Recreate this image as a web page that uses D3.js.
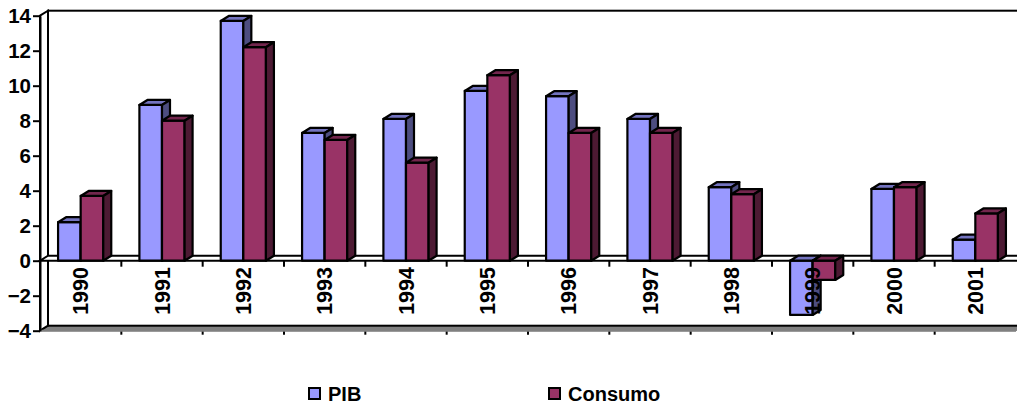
<!DOCTYPE html>
<html>
<head>
<meta charset="utf-8">
<script src="https://cdn.jsdelivr.net/npm/d3@7/dist/d3.min.js"></script>
<style>
  html, body { margin: 0; padding: 0; background: #ffffff; }
  svg { display: block; font-family: "Liberation Sans", Arial, sans-serif; font-weight: bold; }
</style>
</head>
<body>
<svg id="chart" width="1017" height="405"></svg>
<script>
// Annual growth rates (%), PIB vs Consumo
const years = ['1990', '1991', '1992', '1993', '1994', '1995', '1996', '1997', '1998', '1999', '2000', '2001'];
const pib = [2.2, 8.9, 13.7, 7.3, 8.1, 9.7, 9.4, 8.1, 4.2, -3.1, 4.1, 1.2];
const consumo = [3.7, 8.0, 12.2, 6.9, 5.6, 10.6, 7.3, 7.3, 3.8, -1.1, 4.2, 2.7];
const seriesNames = ['PIB', 'Consumo'];
const yTicks = [-4, -2, 0, 2, 4, 6, 8, 10, 12, 14];

const palette = {
  PIB: { front: '#9999ff', top: '#7373bf', side: '#4d4d80' },
  Consumo: { front: '#993366', top: '#73264d', side: '#4d1a33' }
};

const svg = d3.select('#chart');

// pseudo-3D depth offset
const DX = 8, DY = -5;

const x = d3.scaleBand().domain(years).range([40, 1016]).padding(0);
const xs = d3.scaleBand().domain(seriesNames).range([0, x.bandwidth()])
  .paddingInner(0).paddingOuter(0.8);
const y = d3.scaleLinear().domain([-4, 14]).range([330.7, 15.7]);

const x0 = x.range()[0], x1 = x.range()[1];
const yTop = y(14), yBot = y(-4), yZero = y(0);

const poly = pts => pts.map(p => p.join(',')).join(' ');

// floor
svg.append('polygon')
  .attr('points', poly([[x0, yBot], [x1, yBot], [x1 + DX, yBot + DY], [x0 + DX, yBot + DY]]))
  .attr('fill', '#808080').attr('stroke', '#808080').attr('stroke-width', 1);

// back wall
svg.append('rect')
  .attr('x', x0 + DX).attr('y', yTop + DY)
  .attr('width', x1 - x0 + 20).attr('height', yBot - yTop)
  .attr('fill', '#ffffff').attr('stroke', '#000').attr('stroke-width', 2);

// side wall
svg.append('polygon')
  .attr('points', poly([[x0, yTop], [x0 + DX, yTop + DY], [x0 + DX, yBot + DY], [x0, yBot]]))
  .attr('fill', '#ffffff').attr('stroke', '#000').attr('stroke-width', 2);

// zero plane
svg.append('polygon')
  .attr('points', poly([[x0, yZero], [x1 + 10, yZero], [x1 + 10 + DX, yZero + DY], [x0 + DX, yZero + DY]]))
  .attr('fill', '#ffffff').attr('stroke', '#000').attr('stroke-width', 2);

// bars
const rows = [];
years.forEach((yr, i) => {
  rows.push({ year: yr, series: 'PIB', value: pib[i] });
  rows.push({ year: yr, series: 'Consumo', value: consumo[i] });
});

const bars = svg.append('g').attr('class', 'bars')
  .selectAll('g').data(rows).join('g');

bars.each(function (d) {
  const g = d3.select(this);
  const c = palette[d.series];
  const bx = x(d.year) + xs(d.series);
  const bw = xs.bandwidth();
  const top = Math.min(y(d.value), yZero);
  const bottom = Math.max(y(d.value), yZero);
  g.append('rect')
    .attr('x', bx).attr('y', top).attr('width', bw).attr('height', bottom - top)
    .attr('fill', c.front).attr('stroke', '#000').attr('stroke-width', 2.2)
    .attr('stroke-linejoin', 'round');
  g.append('polygon')
    .attr('points', poly([[bx, top], [bx + bw, top], [bx + bw + DX, top + DY], [bx + DX, top + DY]]))
    .attr('fill', c.top).attr('stroke', '#000').attr('stroke-width', 2.2)
    .attr('stroke-linejoin', 'round');
  g.append('polygon')
    .attr('points', poly([[bx + bw, top], [bx + bw + DX, top + DY], [bx + bw + DX, bottom + DY], [bx + bw, bottom]]))
    .attr('fill', c.side).attr('stroke', '#000').attr('stroke-width', 2.2)
    .attr('stroke-linejoin', 'round');
});

// category tick marks at the zero line and along the floor
const boundaries = years.slice(1).map(yr => x(yr));
svg.append('g').selectAll('line.zt').data(boundaries).join('line')
  .attr('x1', d => d).attr('x2', d => d)
  .attr('y1', yZero).attr('y2', yZero + 6)
  .attr('stroke', '#000').attr('stroke-width', 2);
svg.append('g').selectAll('line.bt').data(boundaries).join('line')
  .attr('x1', d => d).attr('x2', d => d)
  .attr('y1', yBot).attr('y2', yBot + 4)
  .attr('stroke', '#000').attr('stroke-width', 2);
svg.append('line')
  .attr('x1', x0).attr('x2', x1).attr('y1', yBot).attr('y2', yBot)
  .attr('stroke', '#808080').attr('stroke-width', 2);

// year labels
svg.append('g').selectAll('text').data(years).join('text')
  .attr('transform', d => `translate(${x(d) + x.bandwidth() / 2},267) rotate(-90)`)
  .attr('text-anchor', 'end')
  .attr('dy', '0.36em')
  .attr('font-size', 21.5)
  .attr('fill', '#000')
  .text(d => d);

// value axis
const yAxis = svg.append('g')
  .attr('transform', `translate(${x0},0)`)
  .call(d3.axisLeft(y).tickValues(yTicks).tickSize(7).tickPadding(2).tickSizeOuter(0)
    .tickFormat(d3.format('d')));
yAxis.select('.domain').attr('stroke', '#000').attr('stroke-width', 2);
yAxis.selectAll('.tick line').attr('stroke', '#000').attr('stroke-width', 2);
yAxis.selectAll('.tick text')
  .attr('font-size', 20.5).attr('font-weight', 'bold')
  .attr('font-family', '"Liberation Sans", Arial, sans-serif')
  .attr('fill', '#000');

// legend
const legendPos = { PIB: 308, Consumo: 548 };
const legend = svg.append('g').selectAll('g').data(seriesNames).join('g')
  .attr('transform', d => `translate(${legendPos[d]},388)`);
legend.append('rect')
  .attr('x', 1).attr('y', 0).attr('width', 11).attr('height', 11)
  .attr('fill', d => palette[d].front).attr('stroke', '#000').attr('stroke-width', 2);
legend.append('text')
  .attr('x', 20).attr('y', 12.5)
  .attr('font-size', 20).attr('fill', '#000')
  .text(d => d);
</script>
</body>
</html>
